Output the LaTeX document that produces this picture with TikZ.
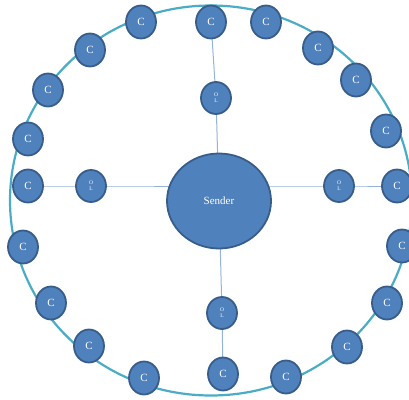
\documentclass[tikz,border=0pt]{standalone}
\usepackage{fontspec}
\setmainfont{Liberation Serif}
\usetikzlibrary{shapes.geometric,backgrounds}
\definecolor{nodefill}{HTML}{4F81BD}
\definecolor{nodeedge}{HTML}{385D8A}
\definecolor{ringcol}{HTML}{4BACC6}
\definecolor{linkcol}{HTML}{95B3D7}
\tikzset{
  cnode/.style={ellipse, fill=nodefill, draw=nodeedge, line width=1.8pt,
    minimum width=30pt, minimum height=33pt, inner sep=0pt,
    text=white, font=\fontsize{11}{11}\selectfont},
  olnode/.style={ellipse, fill=nodefill, draw=nodeedge, line width=1.8pt,
    minimum width=30pt, minimum height=32pt, inner sep=0pt,
    text=white, font=\fontsize{5.5}{6}\selectfont, align=center},
  sender/.style={ellipse, fill=nodefill, draw=nodeedge, line width=1.8pt,
    minimum width=104pt, minimum height=95pt, inner sep=0pt,
    text=white, font=\fontsize{11}{11}\selectfont},
  ring/.style={draw=ringcol, line width=2.2pt},
  link/.style={draw=linkcol, line width=1pt}
}
\begin{document}
\begin{tikzpicture}[x=1pt,y=-1pt]
\useasboundingbox (0,0) rectangle (409,399);
\clip (0,0) rectangle (409,399);
\draw[ring] (211,200.5) ellipse [x radius=201, y radius=195];
% sender
\node[sender] (snd) at (219,201) {Sender};
% OL nodes
\node[olnode] (oln) at (216,98) {O\\L};
\node[olnode] (olw) at (91,186) {O\\L};
\node[olnode] (ole) at (339,186) {O\\L};
\node[olnode] (ols) at (222,313) {O\\L};
% C nodes
\node[cnode] (c1) at (141,22) {C};
\node[cnode] (c2) at (211,22) {C};
\node[cnode] (c3) at (266,22) {C};
\node[cnode] (c4) at (318,48) {C};
\node[cnode] (c5) at (356,80) {C};
\node[cnode] (c6) at (386,131) {C};
\node[cnode] (c7) at (397,186) {C};
\node[cnode] (c8) at (402,246) {C};
\node[cnode] (c9) at (387,303) {C};
\node[cnode] (c10) at (347,347) {C};
\node[cnode] (c11) at (286,377) {C};
\node[cnode] (c12) at (223,374) {C};
\node[cnode] (c13) at (144,378) {C};
\node[cnode] (c14) at (89,346) {C};
\node[cnode] (c15) at (51,303) {C};
\node[cnode] (c16) at (23,247) {C};
\node[cnode] (c17) at (28,186) {C};
\node[cnode] (c18) at (28,139) {C};
\node[cnode] (c19) at (48,90) {C};
\node[cnode] (c20) at (90,50) {C};
\begin{scope}[on background layer]
\draw[link] (c2.center) -- (oln.center) -- (snd.center);
\draw[link] (c17.center) -- (olw.center) -- (olw.center -| snd.center);
\draw[link] (snd.center |- ole.center) -- (ole.center) -- (c7.center);
\draw[link] (snd.center) -- (ols.center) -- (c12.center);
\end{scope}
\end{tikzpicture}
\end{document}
